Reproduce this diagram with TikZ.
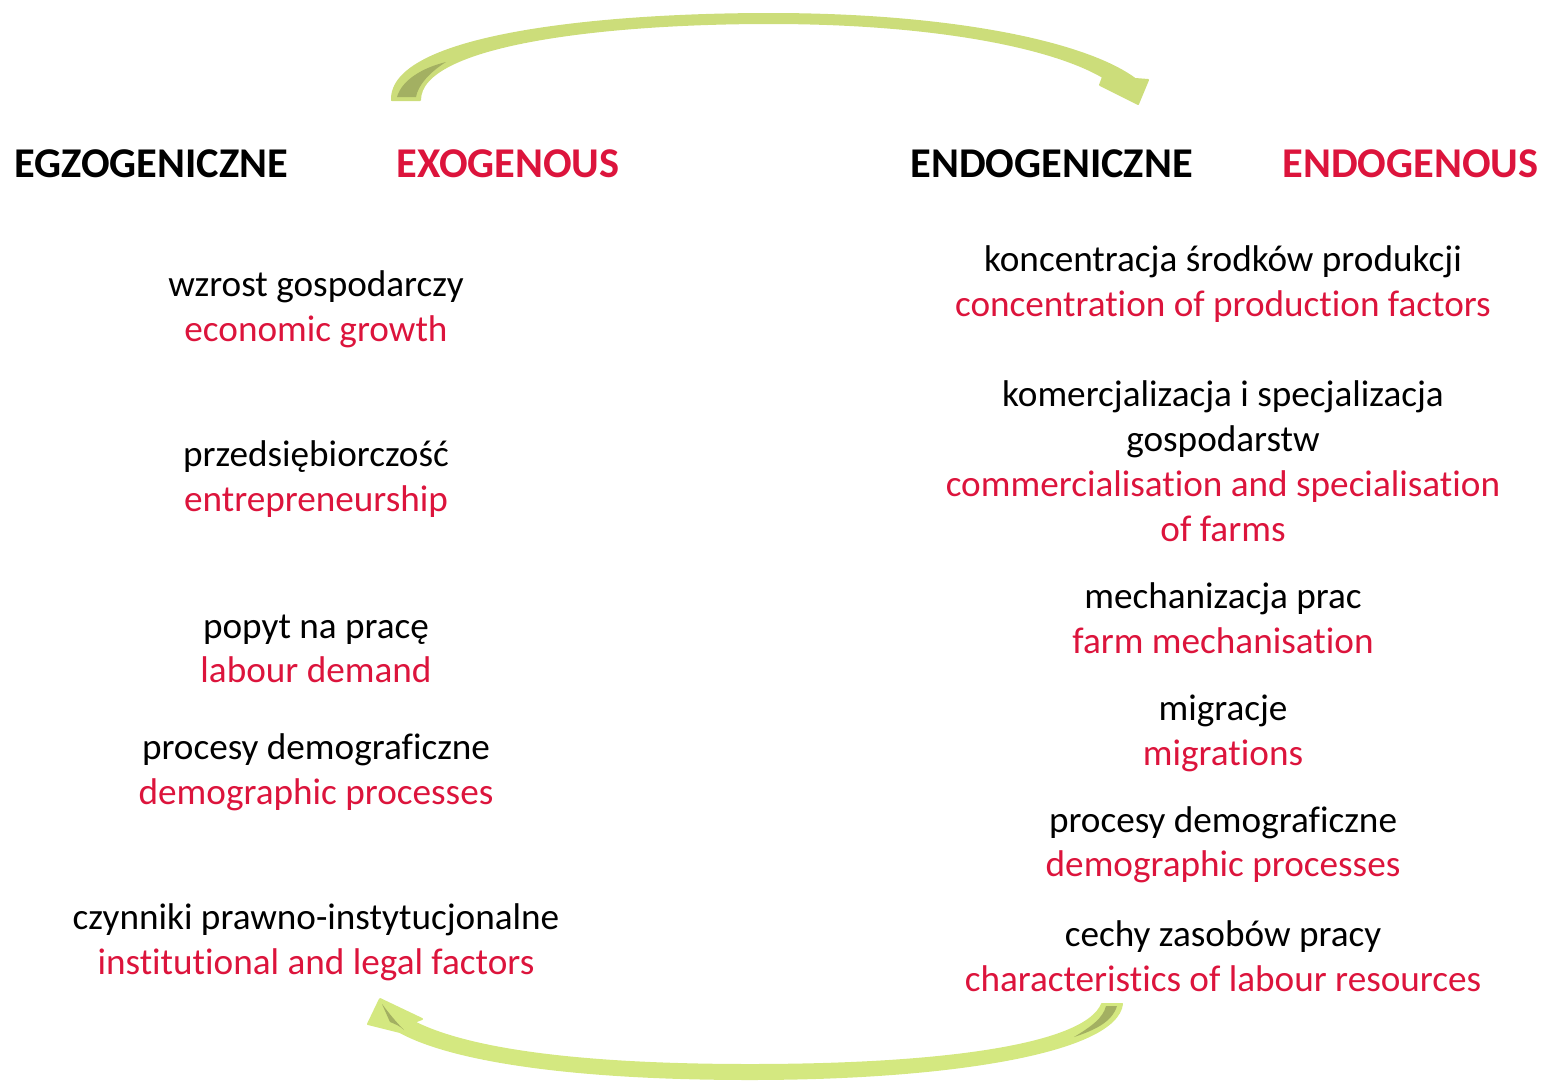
\documentclass[tikz,border=0pt]{standalone}
\usepackage{fontspec}
\setmainfont[Ligatures={NoCommon}]{Carlito}
\definecolor{redtxt}{RGB}{220,20,60}
\definecolor{arrowgreen}{RGB}{204,221,122}
\definecolor{arrowgreenb}{RGB}{212,232,128}
\definecolor{arrowdark}{RGB}{163,176,98}
\begin{document}
\begin{tikzpicture}[x=0.5pt,y=-0.5pt,
  pl/.style={anchor=base,inner sep=0pt,font=\fontsize{18.6}{22}\selectfont,text=black},
  en/.style={pl,text=redtxt},
  headpl/.style={anchor=base west,inner sep=0pt,font=\fontsize{21.2}{25}\selectfont\bfseries,text=black},
  headen/.style={headpl,text=redtxt},
  arrowband/.style={fill=arrowgreen,draw=arrowgreen,line width=1pt,line join=round},
  arrowbandb/.style={fill=arrowgreenb,draw=arrowgreenb,line width=1pt,line join=round},
  shade/.style={fill=arrowdark,draw=none}]
\useasboundingbox (0,0) rectangle (1542,1082);

% headings
\node[headpl] (hegz) at (14,177) {EGZOGENICZNE};
\node[headen] (hexo) at (396,177) {EXOGENOUS};
\node[headpl] (hend) at (910,177) {ENDOGENICZNE};
\node[headen] (hendo) at (1282,177) {ENDOGENOUS};

% left column
\node[pl] (l1a) at (316,296) {wzrost gospodarczy};
\node[en] (l1b) at (316,341) {economic growth};
\node[pl] (l2a) at (316,466) {przedsiębiorczość};
\node[en] (l2b) at (316,511) {entrepreneurship};
\node[pl] (l3a) at (316,638) {popyt na pracę};
\node[en] (l3b) at (316,682) {labour demand};
\node[pl] (l4a) at (316,759) {procesy demograficzne};
\node[en] (l4b) at (316,804) {demographic processes};
\node[pl] (l5a) at (316,929) {czynniki prawno-instytucjonalne};
\node[en] (l5b) at (316,974) {institutional and legal factors};

% right column
\node[pl] (r1a) at (1223,271) {koncentracja środków produkcji};
\node[en] (r1b) at (1223,316) {concentration of production factors};
\node[pl] (r2a) at (1223,406) {komercjalizacja i specjalizacja};
\node[pl] (r2b) at (1223,451) {gospodarstw};
\node[en] (r2c) at (1223,496) {commercialisation and specialisation};
\node[en] (r2d) at (1223,541) {of farms};
\node[pl] (r3a) at (1223,608) {mechanizacja prac};
\node[en] (r3b) at (1223,653) {farm mechanisation};
\node[pl] (r4a) at (1223,720) {migracje};
\node[en] (r4b) at (1223,765) {migrations};
\node[pl] (r5a) at (1223,832) {procesy demograficzne};
\node[en] (r5b) at (1223,876) {demographic processes};
\node[pl] (r6a) at (1223,946) {cechy zasobów pracy};
\node[en] (r6b) at (1223,991) {characteristics of labour resources};

% top curved arrow (exogenous -> endogenous)
\path[arrowband] (392,100) .. controls (390,35) and (600,14) .. (770,14)
  .. controls (950,14) and (1085,42) .. (1135,79)
  -- (1148,80) -- (1138,104) -- (1100,85) -- (1103,77)
  .. controls (1050,46) and (930,23) .. (770,23)
  .. controls (600,23) and (420,45) .. (420,100) -- cycle;
\path[shade] (397,97) .. controls (402,80) and (422,68) .. (446,62)
  .. controls (430,72) and (418,85) .. (416,97) -- cycle;

% bottom curved arrow (endogenous -> exogenous)
\path[arrowbandb] (1122,1004) .. controls (1116,1052) and (950,1079) .. (750,1079)
  .. controls (580,1079) and (455,1062) .. (400,1032)
  -- (368,1024) -- (380,999) -- (422,1019) -- (414,1022)
  .. controls (475,1053) and (600,1065) .. (750,1065)
  .. controls (950,1065) and (1086,1044) .. (1102,1004) -- cycle;
\path[shade] (1106,1006) -- (1117,1006) .. controls (1112,1022) and (1095,1030) .. (1074,1037)
  .. controls (1092,1026) and (1103,1018) .. (1106,1006) -- cycle;
\path[shade] (382,1004) -- (390,1022) .. controls (395,1024) and (400,1026) .. (404,1030)
  .. controls (396,1022) and (388,1012) .. (382,1004) -- cycle;
\end{tikzpicture}
\end{document}
